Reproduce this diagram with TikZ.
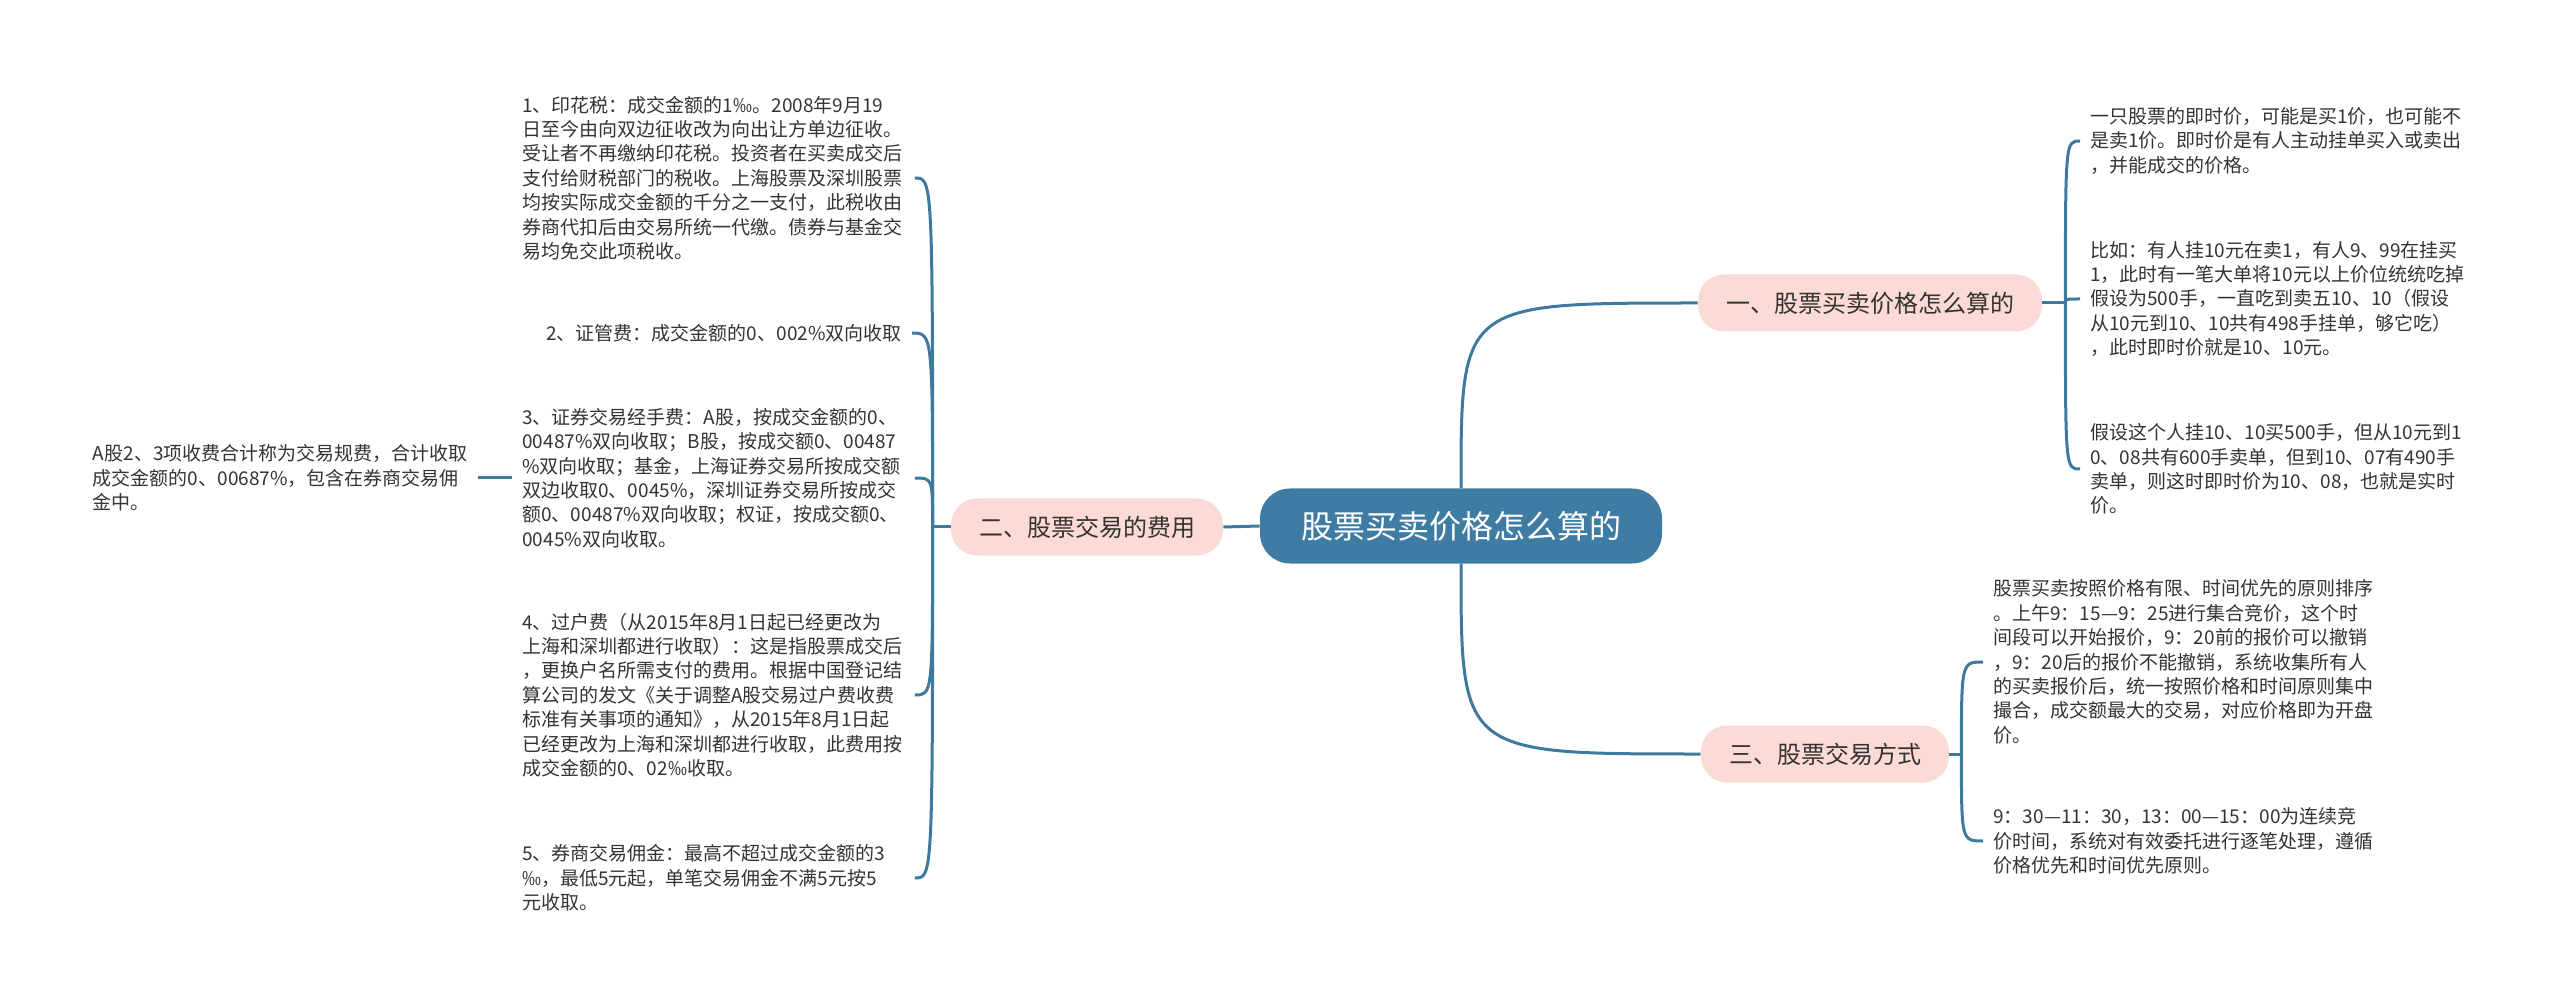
\documentclass[tikz,border=0pt]{standalone}
\usepackage{fontspec}
\setmainfont{Noto Sans CJK SC}
\usepackage{xcolor}
\usepackage{tikz}
\usetikzlibrary{positioning}
\definecolor{mapblue}{HTML}{3E7CA3}
\definecolor{mappink}{HTML}{FCDAD6}
\definecolor{mapline}{HTML}{3D7A9E}
\definecolor{mapink}{HTML}{333333}

\begin{document}
\begin{tikzpicture}[x=0.5pt, y=-0.5pt,
  hub/.style={fill=mapblue, text=white, rounded corners=15pt, font=\fontsize{16}{19}\selectfont, minimum width=201pt, minimum height=37.5pt, inner sep=0pt},
  topic/.style={fill=mappink, text=mapink, rounded corners=13pt, font=\fontsize{12}{14}\selectfont, inner xsep=14pt, inner ysep=0pt, minimum height=28.5pt},
  leaf/.style={text=mapink, align=left, font=\fontsize{9.5}{12.2}\selectfont, inner xsep=5pt, inner ysep=2pt},
  wide/.style={leaf, text width=191pt},
  link/.style={draw=mapline, line width=1.5pt}]
\useasboundingbox (0,0) rectangle (2560,1005);

% centre and main topics
\node[hub] (hub) at (1461,526) {股票买卖价格怎么算的};
\node[topic] (b1) at (1870,303) {一、股票买卖价格怎么算的};
\node[topic] (b2) at (1087,527) {二、股票交易的费用};
\node[topic] (b3) at (1825,754) {三、股票交易方式};

% fees
\node[wide, anchor=west] (c1) at (512,178) {1、印花税：成交金额的1‰。2008年9月19\\日至今由向双边征收改为向出让方单边征收。\\受让者不再缴纳印花税。投资者在买卖成交后\\支付给财税部门的税收。上海股票及深圳股票\\均按实际成交金额的千分之一支付，此税收由\\券商代扣后由交易所统一代缴。债券与基金交\\易均免交此项税收。};
\node[leaf, anchor=east] (c2) at (912,333) {2、证管费：成交金额的0、002\%双向收取};
\node[wide, anchor=west] (c3) at (512,478) {3、证券交易经手费：A股，按成交金额的0、\\00487\%双向收取；B股，按成交额0、00487\\\%双向收取；基金，上海证券交易所按成交额\\双边收取0、0045\%，深圳证券交易所按成交\\额0、00487\%双向收取；权证，按成交额0、\\0045\%双向收取。};
\node[wide, anchor=west] (c4) at (512,695) {4、过户费（从2015年8月1日起已经更改为\\上海和深圳都进行收取）：这是指股票成交后\\，更换户名所需支付的费用。根据中国登记结\\算公司的发文《关于调整A股交易过户费收费\\标准有关事项的通知》，从2015年8月1日起\\已经更改为上海和深圳都进行收取，此费用按\\成交金额的0、02‰收取。};
\node[wide, anchor=west] (c5) at (512,878) {5、券商交易佣金：最高不超过成交金额的3\\‰，最低5元起，单笔交易佣金不满5元按5\\元收取。};
\node[leaf, left=17pt of c3] (x1) {A股2、3项收费合计称为交易规费，合计收取\\成交金额的0、00687\%，包含在券商交易佣\\金中。};

% price
\node[leaf, anchor=west] (d1) at (2080,141) {一只股票的即时价，可能是买1价，也可能不\\是卖1价。即时价是有人主动挂单买入或卖出\\，并能成交的价格。};
\node[leaf, anchor=west] (d2) at (2080,299) {比如：有人挂10元在卖1，有人9、99在挂买\\1，此时有一笔大单将10元以上价位统统吃掉\\假设为500手，一直吃到卖五10、10（假设\\从10元到10、10共有498手挂单，够它吃）\\，此时即时价就是10、10元。};
\node[leaf, anchor=west] (d3) at (2080,469) {假设这个人挂10、10买500手，但从10元到1\\0、08共有600手卖单，但到10、07有490手\\卖单，则这时即时价为10、08，也就是实时\\价。};

% trading
\node[leaf, anchor=west] (e1) at (1983,662) {股票买卖按照价格有限、时间优先的原则排序\\。上午9：15—9：25进行集合竞价，这个时\\间段可以开始报价，9：20前的报价可以撤销\\，9：20后的报价不能撤销，系统收集所有人\\的买卖报价后，统一按照价格和时间原则集中\\撮合，成交额最大的交易，对应价格即为开盘\\价。};
\node[leaf, anchor=west] (e2) at (1983,841) {9：30—11：30，13：00—15：00为连续竞\\价时间，系统对有效委托进行逐笔处理，遵循\\价格优先和时间优先原则。};

% connectors
\draw[link] (hub.west) -- (b2.east);
\draw[link] (hub.north) .. controls (hub.north |- b1.west) .. (b1.west);
\draw[link] (hub.south) .. controls (hub.south |- b3.west) .. (b3.west);

\draw[link] (b2.west) -- ++(-18,0) coordinate (lt);
\foreach \c in {c1,c2,c3,c4,c5}
  \draw[link] (lt) .. controls (lt |- \c.east) .. (\c.east);
\draw[link] (c3.west) -- (x1.east);

\draw[link] (b1.east) -- ++(23,0) coordinate (rt1);
\foreach \c in {d1,d2,d3}
  \draw[link] (rt1) .. controls (rt1 |- \c.west) .. (\c.west);

\draw[link] (b3.east) -- ++(12,0) coordinate (rt3);
\foreach \c in {e1,e2}
  \draw[link] (rt3) .. controls (rt3 |- \c.west) .. (\c.west);
\end{tikzpicture}
\end{document}
